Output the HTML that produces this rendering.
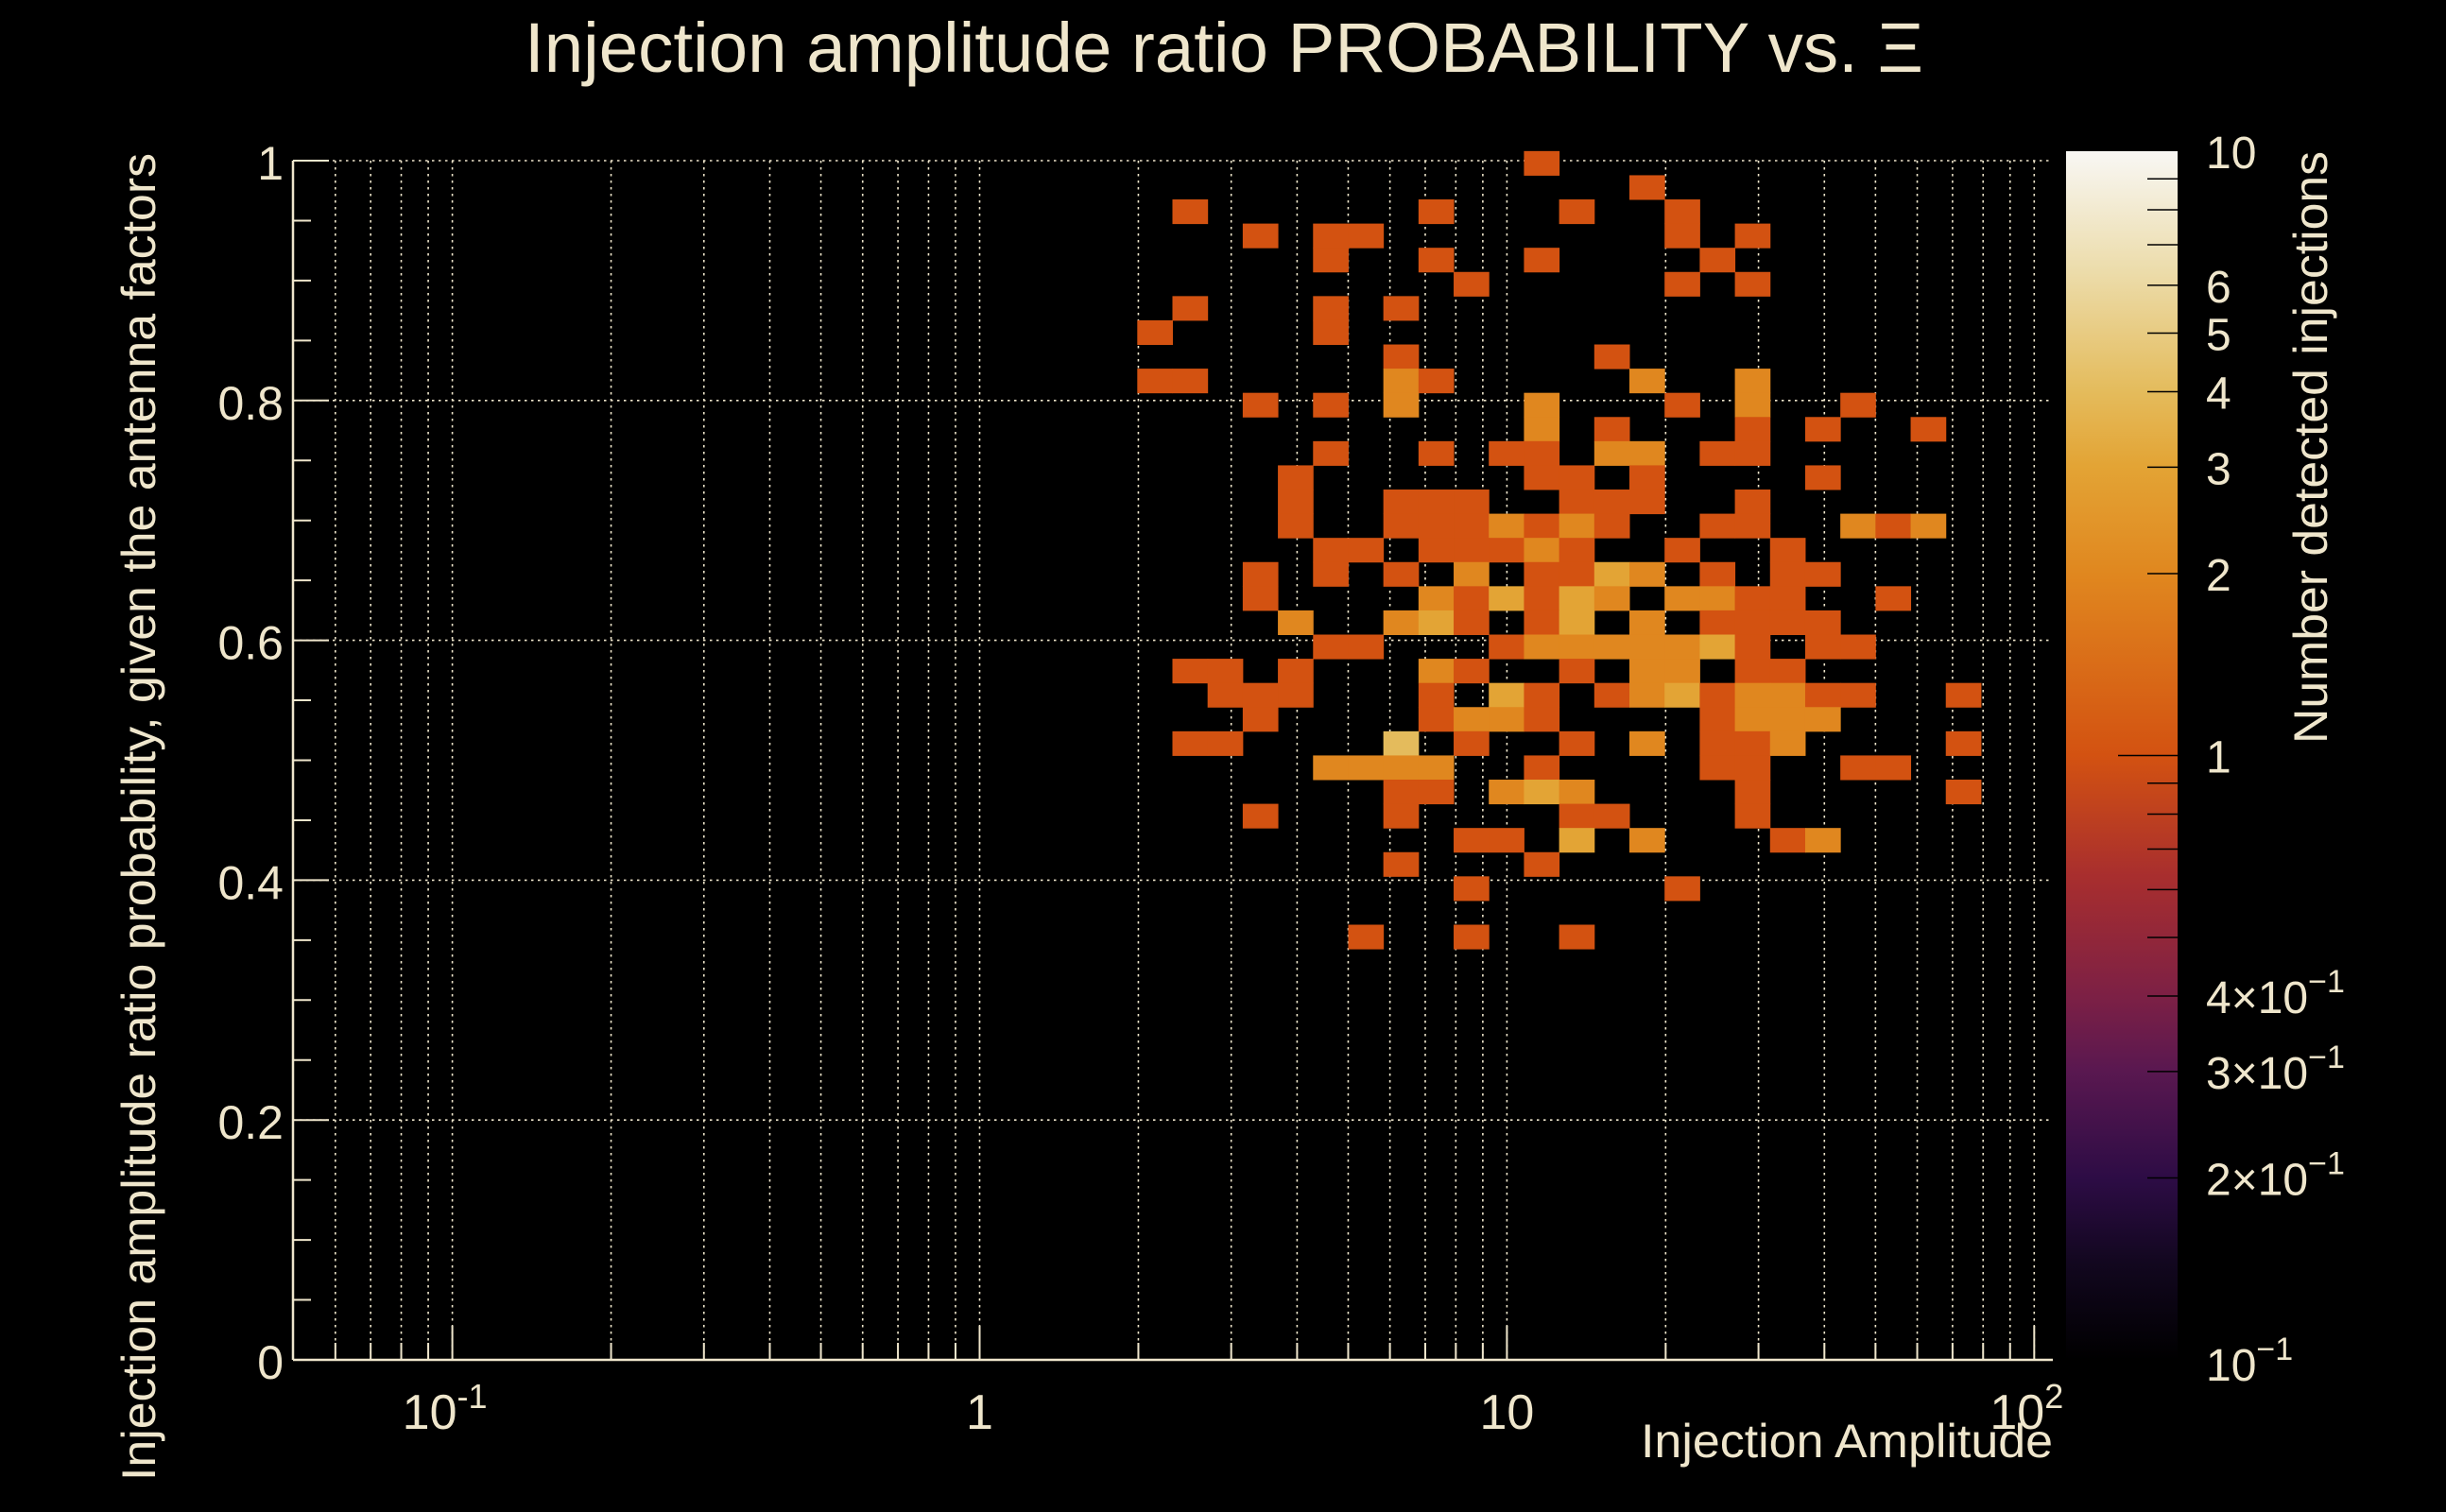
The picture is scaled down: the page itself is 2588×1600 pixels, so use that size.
<!DOCTYPE html>
<html><head><meta charset="utf-8"><style>
html,body{margin:0;padding:0;background:#000;}
svg{display:block;}
text{font-family:"Liberation Sans",sans-serif;fill:#efe6cc;}
</style></head><body>
<svg id="chart" width="2588" height="1600" viewBox="0 0 2588 1600" xmlns="http://www.w3.org/2000/svg">
<defs>
<linearGradient id="cbgrad" x1="0" y1="1" x2="0" y2="0">
<stop offset="0" stop-color="#000000"/><stop offset="0.08" stop-color="#12071f"/><stop offset="0.15" stop-color="#2d0c45"/>
<stop offset="0.24" stop-color="#5a1850"/><stop offset="0.30" stop-color="#7c2045"/><stop offset="0.40" stop-color="#a82e2e"/>
<stop offset="0.5" stop-color="#d35211"/><stop offset="0.65" stop-color="#e0871f"/><stop offset="0.74" stop-color="#e3a435"/>
<stop offset="0.80" stop-color="#e4bb5b"/><stop offset="0.9" stop-color="#ecdcaa"/><stop offset="1" stop-color="#f8f7f4"/>
</linearGradient>
</defs>
<text x="1295" y="76" font-size="74" text-anchor="middle" textLength="1480" lengthAdjust="spacingAndGlyphs">Injection amplitude ratio PROBABILITY vs.  Ξ</text>
<g id="grid"></g>
<g id="cells"></g>
<g id="axes"></g>
<rect x="2186" y="160" width="118" height="1279" fill="url(#cbgrad)"/>
<g id="cbax"></g>
<text x="2172" y="1542" font-size="50" text-anchor="end" textLength="436" lengthAdjust="spacingAndGlyphs">Injection Amplitude</text>
<text transform="translate(164,162) rotate(-90)" font-size="50" text-anchor="end" textLength="1405" lengthAdjust="spacingAndGlyphs">Injection amplitude ratio probability, given the antenna factors</text>
<text transform="translate(2462,160) rotate(-90)" font-size="50" text-anchor="end" textLength="627" lengthAdjust="spacingAndGlyphs">Number detected injections</text>
</svg>
<script>
const cellX=[35,38,25,32,36,39,27,29,30,39,41,29,32,35,40,33,39,41,25,29,31,24,29,31,37,
24,25,31,32,38,41,27,29,31,35,39,41,44,35,37,41,43,46,29,32,34,35,37,38,40,41,28,35,36,38,43,
28,31,32,33,36,37,38,41,28,31,32,33,34,35,36,37,40,41,44,45,46,29,30,32,33,34,35,36,39,42,
27,29,31,33,35,36,37,38,40,42,43,27,32,33,34,35,36,37,39,40,41,42,45,
28,31,32,33,35,36,38,40,41,42,43,29,30,34,35,36,37,38,39,40,41,43,44,
25,26,28,32,33,36,38,39,41,42,26,27,28,32,34,35,37,38,39,40,41,42,43,44,47,
27,32,33,34,35,40,41,42,43,25,26,31,33,36,38,40,41,42,47,29,30,31,32,35,40,41,44,45,
31,32,34,35,36,41,47,27,31,36,37,41,33,34,36,38,42,43,31,35,33,39,30,33,36];
const cellY=[49,48,47,47,47,47,46,46,46,46,46,45,45,45,45,44,44,44,43,43,43,42,42,41,41,
40,40,40,40,40,40,39,39,39,39,39,39,39,38,38,38,38,38,37,37,37,37,37,37,37,37,36,36,36,36,36,
35,35,35,35,35,35,35,35,34,34,34,34,34,34,34,34,34,34,34,34,34,33,33,33,33,33,33,33,33,33,
32,32,32,32,32,32,32,32,32,32,32,31,31,31,31,31,31,31,31,31,31,31,31,
30,30,30,30,30,30,30,30,30,30,30,29,29,29,29,29,29,29,29,29,29,29,29,
28,28,28,28,28,28,28,28,28,28,27,27,27,27,27,27,27,27,27,27,27,27,27,27,27,
26,26,26,26,26,26,26,26,26,25,25,25,25,25,25,25,25,25,25,24,24,24,24,24,24,24,24,24,
23,23,23,23,23,23,23,22,22,22,22,22,21,21,21,21,21,21,20,20,19,19,17,17,17];
const cellN=[1,1,1,1,1,1,1,1,1,1,1,1,1,1,1,1,1,1,1,1,1,1,1,1,1,
1,1,2,1,2,2,1,1,2,2,1,2,1,2,1,1,1,1,1,1,1,1,2,2,1,1,1,1,1,1,1,
1,1,1,1,1,1,1,1,1,1,1,1,2,1,2,1,1,1,2,1,2,1,1,1,1,1,2,1,1,1,
1,1,1,2,1,1,3,2,1,1,1,1,2,1,3,1,3,2,2,2,1,1,1,
2,2,3,1,1,3,2,1,1,1,1,1,1,1,2,2,2,2,2,3,1,1,1,
1,1,1,2,1,1,2,2,1,1,1,1,1,1,3,1,1,2,3,1,2,2,1,1,1,
1,1,2,2,1,1,2,2,2,1,1,4,1,1,2,1,1,2,1,2,2,2,2,1,1,1,1,1,
1,1,2,3,2,1,1,1,1,1,1,1,1,1,3,2,1,2,1,1,1,1,1,1,1];
const xTickVals=[0.1,1,10,100];
const xTickLabels=["10","1","10","10"];
const xTickExp=["-1","","","2"];
const yTickVals=[0,0.2,0.4,0.6,0.8,1];
const yTickLabels=["0","0.2","0.4","0.6","0.8","1"];
const cbTickVals=[0.1,0.2,0.3,0.4,1,2,3,4,5,6,10];
const cbTickLabels=["10","2×10","3×10","4×10","1","2","3","4","5","6","10"];
const cbTickExp=["−1","−1","−1","−1","","","","","","",""];

const NS="http://www.w3.org/2000/svg";
const X0=1036.5,XD=557.9,YB=1439,YH=1269;
const L=310,R=2172,T=170;
function sx(v){return X0+Math.log10(v)*XD;}
function sy(v){return YB-v*YH;}
const XMIN=0.05,XBINS=15,YLO=0,YW=1.008/50;
function xEdge(b){return XMIN*Math.pow(10,b/XBINS);}
function yEdge(b){return YLO+b*YW;}
const CBT=160,CBB=1439;
function cby(v){return CBB-(Math.log10(v)+1)/2*(CBB-CBT);}
const stops=[[0,"#000000"],[0.08,"#12071f"],[0.15,"#2d0c45"],[0.24,"#5a1850"],[0.30,"#7c2045"],[0.40,"#a82e2e"],[0.5,"#d35211"],[0.65,"#e0871f"],[0.74,"#e3a435"],[0.80,"#e4bb5b"],[0.9,"#ecdcaa"],[1,"#f8f7f4"]];
function hx(h){return [1,3,5].map(i=>parseInt(h.substr(i,2),16));}
function color(v){
  let f=(Math.log10(v)+1)/2;f=Math.max(0,Math.min(1,f));
  for(let i=1;i<stops.length;i++){if(f<=stops[i][0]+1e-9){const a=stops[i-1],b=stops[i];const t=(f-a[0])/(b[0]-a[0]);const ca=hx(a[1]),cb=hx(b[1]);return "rgb("+ca.map((c,j)=>Math.round(c+(cb[j]-c)*t)).join(",")+")";}}
  return stops[stops.length-1][1];
}
function mk(tag,attrs,parent){const e=document.createElementNS(NS,tag);for(const k in attrs)e.setAttribute(k,attrs[k]);parent.appendChild(e);return e;}
const grid=document.getElementById('grid'),cells=document.getElementById('cells'),axes=document.getElementById('axes'),cbax=document.getElementById('cbax');
const xMinorVals=[];
for(let d=-2;d<=2;d++)for(let m=1;m<=9;m++){const v=m*Math.pow(10,d);if(v>=0.055&&v<=108)xMinorVals.push(v);}
xMinorVals.forEach(v=>{
  const ln=mk('line',{x1:sx(v),x2:sx(v),y1:T,y2:YB,stroke:'#efe6cc','stroke-width':1.6,'stroke-dasharray':'2.5,4.5'},grid);
  
  
});
yTickVals.forEach(v=>{if(v===0)return;
  const ln=mk('line',{x1:L,x2:R,y1:sy(v),y2:sy(v),stroke:'#efe6cc','stroke-width':1.6,'stroke-dasharray':'2.5,4.5'},grid);
  
  
});
for(let i=0;i<cellX.length;i++){
  const x1=sx(xEdge(cellX[i])),x2=sx(xEdge(cellX[i]+1));
  const y1=sy(yEdge(cellY[i]+1)),y2=sy(yEdge(cellY[i]));
  const r=mk('rect',{x:x1,y:y1,width:x2-x1+0.5,height:y2-y1+0.5,fill:color(cellN[i])},cells);
  
  
}
mk('line',{x1:L,x2:R,y1:YB,y2:YB,stroke:'#efe6cc','stroke-width':2.5},axes);
mk('line',{x1:L,x2:L,y1:T,y2:YB,stroke:'#efe6cc','stroke-width':2.5},axes);
xMinorVals.forEach(v=>{const maj=xTickVals.indexOf(v)>=0||Math.abs(Math.log10(v)-Math.round(Math.log10(v)))<1e-9;
  mk('line',{x1:sx(v),x2:sx(v),y1:YB,y2:YB-(maj?36:18),stroke:'#efe6cc','stroke-width':2},axes);});
for(let v=0;v<=1.0001;v+=0.05){const maj=Math.abs(v*5-Math.round(v*5))<1e-6;
  mk('line',{x1:L,x2:L+(maj?38:19),y1:sy(v),y2:sy(v),stroke:'#efe6cc','stroke-width':2},axes);}
xTickVals.forEach((v,i)=>{
  const t=mk('text',{x:sx(v),y:1512,'font-size':52,'text-anchor':'middle'},axes);
  
  
  t.textContent=xTickLabels[i];
  if(xTickExp[i]){const s=mk('tspan',{dy:-22,'font-size':36},t);s.textContent=xTickExp[i];t.setAttribute('x',sx(v)-8);}
});
yTickVals.forEach((v,i)=>{
  const t=mk('text',{x:300,y:sy(v)+20,'font-size':50,'text-anchor':'end'},axes);
  
  
  t.textContent=yTickLabels[i];
});
const cbMinor=[0.2,0.3,0.4,0.5,0.6,0.7,0.8,0.9,2,3,4,5,6,7,8,9];
cbMinor.forEach(v=>mk('line',{x1:2272,x2:2304,y1:cby(v),y2:cby(v),stroke:'#000','stroke-width':1.5},cbax));
mk('line',{x1:2241,x2:2304,y1:cby(1),y2:cby(1),stroke:'#000','stroke-width':1.5},cbax);
cbTickVals.forEach((v,i)=>{
  let y=cby(v)+18; if(v===10)y=cby(v)+18; if(v===0.1)y=cby(v)+22;
  const t=mk('text',{x:2334,y:y,'font-size':48},cbax);
  
  
  t.textContent=cbTickLabels[i];
  if(cbTickExp[i]){const s=mk('tspan',{dy:-22,'font-size':34},t);s.textContent=cbTickExp[i];}
});
</script>
</body></html>
